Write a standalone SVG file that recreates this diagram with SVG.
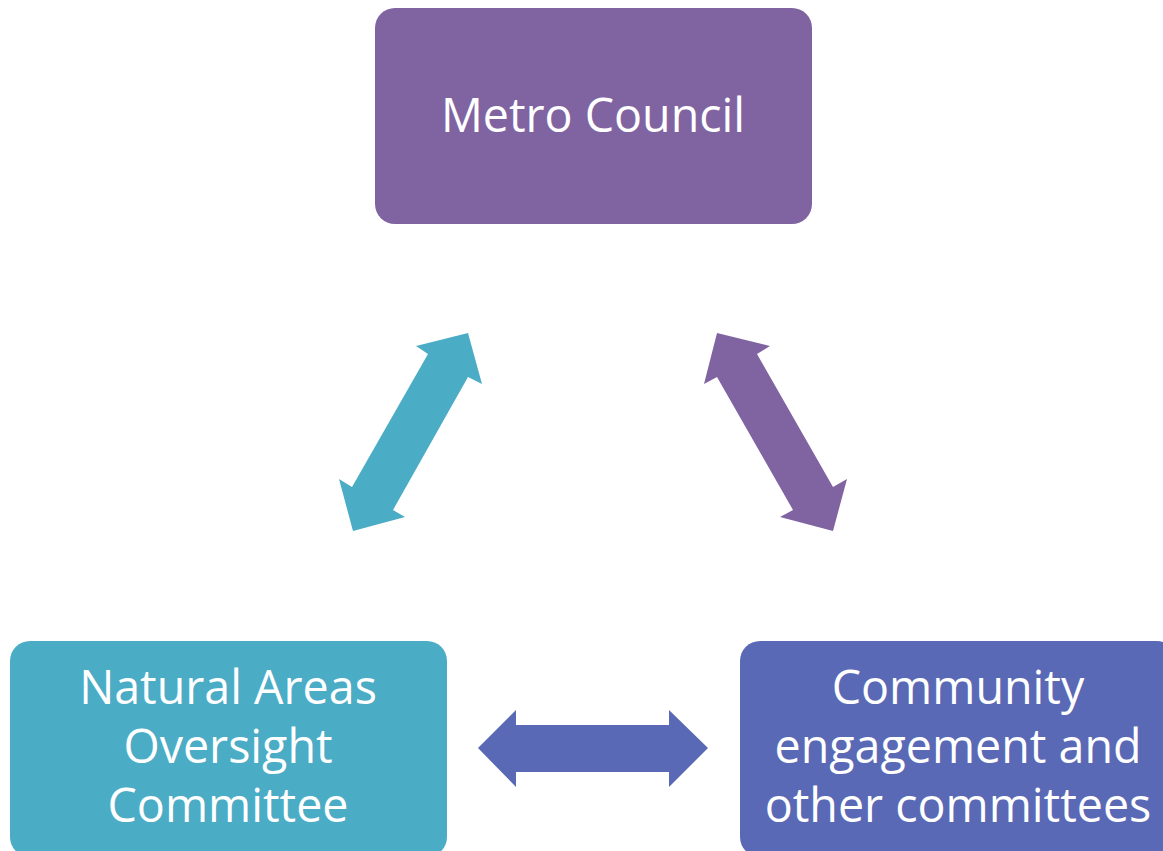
<svg xmlns="http://www.w3.org/2000/svg" width="1163" height="851" viewBox="0 0 1163 851">
<style>
.lbl{font-family:"Open Sans","Noto Sans",sans-serif;font-size:46.6px;fill:#ffffff;text-anchor:middle}
.purple{fill:#8064A2}
.teal{fill:#4BACC6}
.blue{fill:#5A69B5}
</style>
<rect width="1163" height="851" fill="#ffffff"/>
<g id="connectors">
<polygon id="arrow-left" class="teal" points="468,333 482,384 468,377 393,510 405,517 353,531 339,479 352,487 428,354 416,346"/>
<polygon id="arrow-right" class="purple" points="717,333 770,346 757,354 833,487 847,479 833,531 780,517 793,510 717,377 704,384"/>
<polygon id="arrow-bottom" class="blue" points="478,748 516,710 516,725 669,725 669,710 708,748 669,787 669,772 516,772 516,787"/>
</g>
<g id="node-metro-council">
<rect class="purple" x="375" y="8" width="437" height="216" rx="20" ry="20"/>
<text class="lbl" x="593" y="132">Metro Council</text>
</g>
<g id="node-natural-areas">
<rect class="teal" x="10" y="641" width="437" height="216" rx="20" ry="20"/>
<text class="lbl" x="228" y="704">Natural Areas</text>
<text class="lbl" x="228" y="763">Oversight</text>
<text class="lbl" x="228" y="822">Committee</text>
</g>
<g id="node-community">
<rect class="blue" x="740" y="641" width="437" height="216" rx="20" ry="20"/>
<text class="lbl" x="958" y="704">Community</text>
<text class="lbl" x="958" y="763">engagement and</text>
<text class="lbl" x="958" y="822">other committees</text>
</g>
</svg>
